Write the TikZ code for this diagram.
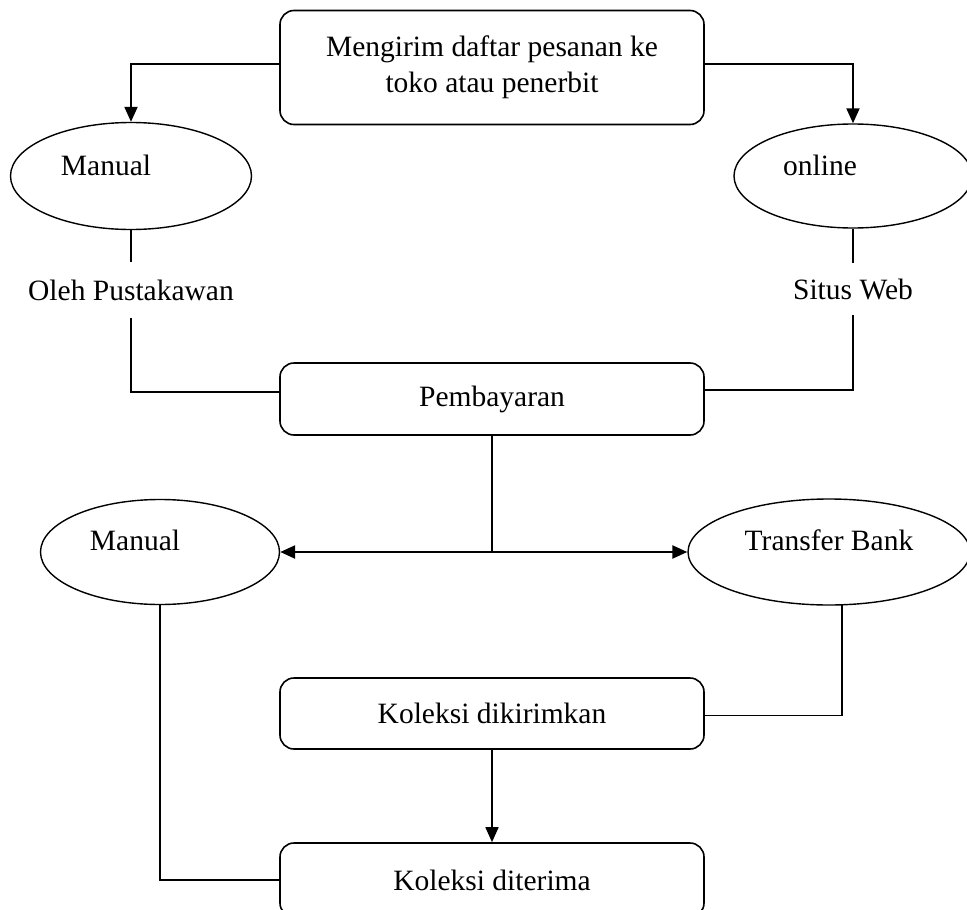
\documentclass[tikz,border=0pt]{standalone}
\usepackage{fontspec}
\setmainfont{Liberation Serif}
\usetikzlibrary{shapes.geometric,arrows.meta}
\begin{document}
\begin{tikzpicture}[x=1pt,y=-1pt,
  box/.style={draw,line width=1.6pt,rounded corners=14pt,minimum width=424pt,inner sep=0pt,align=center,font=\fontsize{29.5}{36}\selectfont},
  oval/.style={draw,ellipse,line width=1.4pt,inner sep=0pt},
  lbl/.style={inner sep=0pt,font=\fontsize{29.5}{34}\selectfont},
  conn/.style={line width=1.3pt},
  arr/.style={line width=2pt,-{Triangle[width=13pt,length=15pt]}},
  darr/.style={line width=2.4pt,{Triangle[width=13pt,length=15pt]}-{Triangle[width=13pt,length=15pt]}},
]
\useasboundingbox (0,0) rectangle (967,910);
\clip (0,0) rectangle (967,910);
% boxes
\node[box,minimum height=114pt] (top) at (492,67.5) {Mengirim daftar pesanan ke\\toko atau penerbit};
\node[box,minimum height=72pt] (pay) at (492,399) {Pembayaran};
\node[box,minimum height=71pt] (kol1) at (492,713.5) {Koleksi dikirimkan};
\node[box,minimum height=74pt] (kol2) at (492,880) {Koleksi diterima};
% ellipses
\node[oval,minimum width=241pt,minimum height=107pt] (e1) at (131,176) {};
\node[lbl] (t1) at (106,165) {Manual};
\node[oval,minimum width=238pt,minimum height=104pt] (e2) at (853,176) {};
\node[lbl] (t2) at (820,165) {online};
\node[oval,minimum width=239pt,minimum height=105pt] (e3) at (160,552) {};
\node[lbl] (t3) at (135,540) {Manual};
\node[oval,minimum width=282pt,minimum height=106pt] (e4) at (829,552) {};
\node[lbl] (t4) at (829,540) {Transfer Bank};
% free labels
\node[lbl,minimum height=56pt] (op) at (131,290) {Oleh Pustakawan};
\node[lbl,minimum height=52pt] (sw) at (853,289) {Situs Web};
% helper coordinates
\coordinate (y64) at (0,64);
\coordinate (junc) at (492,553);
% connectors
\draw[arr] (top.west |- y64) -| (e1.north);
\draw[arr] (top.east |- y64) -| (e2.north);
\draw[conn] (e1.south) -- (op.north);
\draw[conn] (op.south) |- ([yshift=7pt]pay.west);
\draw[conn] (e2.south) -- (sw.north);
\draw[conn] (sw.south) |- ([yshift=9pt]pay.east);
\draw[conn] (pay.south) -- (junc);
\draw[darr] (e3.east) -- (e4.west);
\draw[conn] (e3.south) |- (kol2.west);
\draw[conn] ([xshift=13pt,yshift=0.8pt]e4.south) |- ([yshift=-2pt]kol1.east);
\draw[arr,line width=1.6pt] (kol1.south) -- (kol2.north);
\end{tikzpicture}
\end{document}
